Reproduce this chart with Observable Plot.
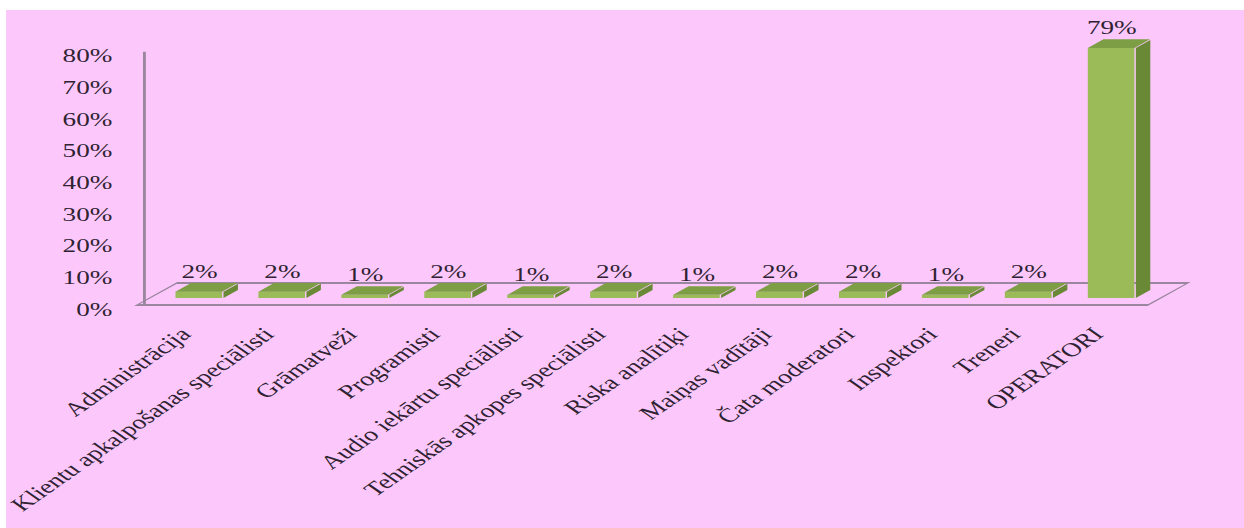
<!DOCTYPE html>
<html><head><meta charset="utf-8">
<script src="https://cdn.jsdelivr.net/npm/d3@7"></script>
<script src="https://cdn.jsdelivr.net/npm/@observablehq/plot@0.6"></script>
<style>
html,body{margin:0;padding:0;background:#fff;}
#bg{position:absolute;left:6px;top:10px;width:1238px;height:518px;background:#FCC8FC;}
#chart{position:absolute;left:0;top:0;}
#chart svg{transform:scaleX(1.43);transform-origin:0 0;}
.skx rect, rect.skx{transform-box:fill-box;transform-origin:0 100%;transform:skewX(-51.7deg);}
.sky rect, rect.sky{transform-box:fill-box;transform-origin:0 0;transform:skewY(-38.3deg);}
</style></head>
<body><div id="bg"></div><div id="chart"></div>
<script>
const categories = ["Administrācija","Klientu apkalpošanas speciālisti","Grāmatveži","Programisti","Audio iekārtu speciālisti","Tehniskās apkopes speciālisti","Riska analītiķi","Maiņas vadītāji","Čata moderatori","Inspektori","Treneri","OPERATORI"];
const values = [2,2,1,2,1,2,1,2,2,1,2,79];
const yTicks = [0,10,20,30,40,50,60,70,80];

const data = categories.map((c,i)=>({category:c, value:values[i]}));
const W = 870, H = 528;
const frontColor = "#9BBB59", sideColor = "#6A8936", topColor = "#7E9E45", edgeColor = "#9a869e", inkColor = "#2f2231";

const chart = Plot.plot({
  width: W, height: H,
  marginLeft: 104.1, marginRight: W - 811.3, marginTop: 44.8, marginBottom: 230,
  x: {domain: categories, padding: 0, axis: null},
  y: {domain: [0, 80], axis: null},
  style: {background: "transparent", fontFamily: "'Liberation Serif', 'Times New Roman', serif", fontSize: "19px", color: inkColor, overflow: "visible"},
  marks: [
    Plot.frame({className: "skx", stroke: edgeColor, strokeWidth: 1.8, fill: "none", insetLeft: -8.3, insetRight: 8.5, insetTop: 238.2, insetBottom: -7}),
    Plot.ruleX([categories[0]], {x: d => d, dx: -38.5, y1: 0, y2: 80, insetTop: 7.2, insetBottom: -7, stroke: edgeColor, strokeWidth: 2}),
    Plot.barY(data, {className: "sky", x: "category", y: "value", fill: sideColor, insetLeft: 46.3, insetRight: 1.6}),
    Plot.barY(data, {x: "category", y: "value", fill: frontColor, insetLeft: 12.7, insetRight: 12.7}),
    Plot.barY(data, {className: "skx", x: "category", y1: "value", y2: "value", insetTop: -8.6, insetBottom: 0, insetLeft: 12.7, insetRight: 12.7, fill: topColor}),
    Plot.text(data, {x: "category", y: "value", text: d => d.value + "%", lineAnchor: "bottom", dy: -14}),
    Plot.text(yTicks, {y: d => d, text: d => d + "%", frameAnchor: "left", textAnchor: "end", dx: -26, dy: 11}),
    Plot.text(categories, {x: d => d, text: d => d, frameAnchor: "bottom", rotate: -45, textAnchor: "end", fontSize: 19.5, dx: -5, dy: 37})
  ]
});
document.getElementById("chart").appendChild(chart);
</script>
</body></html>
